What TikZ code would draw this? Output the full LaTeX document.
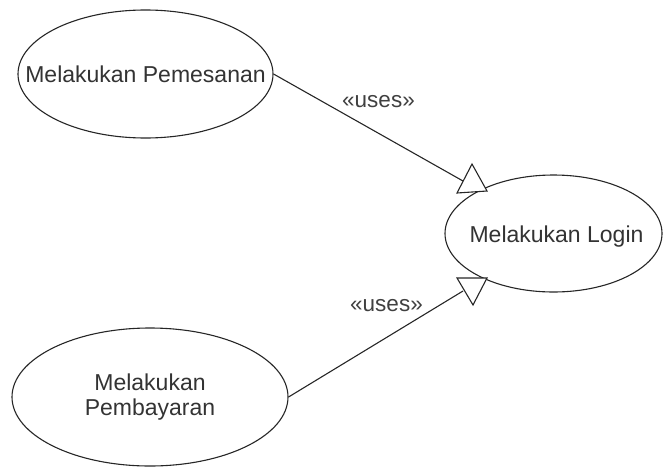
\documentclass[tikz,border=0pt]{standalone}
\usepackage{fontspec}
\setmainfont{Liberation Sans}
\usetikzlibrary{shapes.geometric}
\begin{document}
\begin{tikzpicture}[x=1pt,y=-1pt,
  usecase/.style={draw=black!85, line width=1.1pt, ellipse, inner sep=0pt, fill=white},
  uctext/.style={text=black!80, font=\fontsize{23}{25}\selectfont, align=center, inner sep=0pt},
  relation/.style={draw=black!85, line width=1.1pt},
  gentip/.style={draw=black!85, line width=1.1pt, fill=white, line join=miter},
  stereo/.style={text=black!75, font=\fontsize{22.5}{25}\selectfont, inner sep=0pt, anchor=base}]
\useasboundingbox (0,0) rectangle (663,466);

% use cases
\node[usecase, minimum width=255pt, minimum height=128pt] (pem) at (145.5,74) {};
\node[uctext] (pemtext) at (pem.center) {Melakukan Pemesanan};

\node[usecase, minimum width=217pt, minimum height=117pt] (login) at (553.5,233.5) {};
\node[uctext, anchor=base] (logintext) at (556.5,242) {Melakukan Login};

\node[usecase, minimum width=276pt, minimum height=138pt] (bayar) at (150,397) {};
\node[uctext] (bayartext) at (bayar.center) {Melakukan\\Pembayaran};

% ends of the <<uses>> relations at the hollow triangles
\coordinate (endA) at (463,181);
\coordinate (endB) at (463,291);

\draw[relation] (pem.east) -- (endA);
\draw[relation] (bayar.east) -- (endB);

% hollow generalisation triangles
\coordinate (tA1) at (472,164);
\coordinate (tA2) at (457,193);
\coordinate (tA3) at (487,191);
\draw[gentip] (tA1) -- (tA2) -- (tA3) -- cycle;

\coordinate (tB1) at (457,278);
\coordinate (tB2) at (487,278);
\coordinate (tB3) at (473,305);
\draw[gentip] (tB1) -- (tB2) -- (tB3) -- cycle;

% stereotype labels
\node[stereo] (usesA) at (378.5,107) {«uses»};
\node[stereo] (usesB) at (386.5,311) {«uses»};
\end{tikzpicture}
\end{document}
